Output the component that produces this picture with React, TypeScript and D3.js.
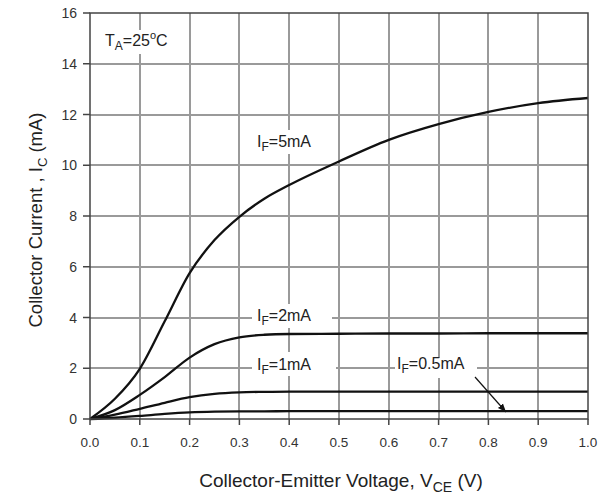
import React from "react";
import * as d3 from "d3";

const vce = [0, 0.05, 0.1, 0.15, 0.2, 0.25, 0.3, 0.35, 0.4, 0.5, 0.6, 0.7, 0.8, 0.9, 1.0];
const if5 = [0, 0.8, 1.98, 3.85, 5.75, 7.05, 7.97, 8.68, 9.22, 10.15, 11.0, 11.62, 12.1, 12.45, 12.65];
const if2 = [0, 0.35, 0.95, 1.65, 2.42, 2.95, 3.22, 3.32, 3.35, 3.36, 3.37, 3.37, 3.38, 3.38, 3.38];
const if1 = [0, 0.17, 0.4, 0.64, 0.86, 0.99, 1.05, 1.07, 1.08, 1.08, 1.08, 1.08, 1.08, 1.08, 1.08];
const if05 = [0, 0.05, 0.12, 0.2, 0.26, 0.29, 0.3, 0.3, 0.31, 0.31, 0.31, 0.31, 0.31, 0.31, 0.31];
const series = [if5, if2, if1, if05];
const xTicks = [0, 0.1, 0.2, 0.3, 0.4, 0.5, 0.6, 0.7, 0.8, 0.9, 1.0];
const yTicks = [0, 2, 4, 6, 8, 10, 12, 14, 16];

const W = 598, H = 495;
const L = 90, R = 588, T = 13, B = 419;

export default function App() {
  const x = d3.scaleLinear().domain([0, 1]).range([L, R]);
  const y = d3.scaleLinear().domain([0, 16]).range([B, T]);
  const line = d3.line<number>().x((_, i) => x(vce[i])).y((d) => y(d)).curve(d3.curveMonotoneX);
  const font = "Liberation Sans, Arial, sans-serif";
  const gridC = "#9a9a9a";
  const labelStyle = { fontFamily: font, fontSize: 16, fill: "#222" } as const;
  const IF = (lx: number, ly: number, val: string) => (
    <text x={lx} y={ly} {...labelStyle}>
      I<tspan fontSize={12} dy={4}>F</tspan><tspan dy={-4}>={val}</tspan>
    </text>
  );
  return (
    <svg width={W} height={H} style={{ position: "absolute", left: 0, top: 0, background: "#fff" }}>
      <defs>
        <marker id="ah" viewBox="0 0 10 10" refX="10" refY="5" markerWidth="7" markerHeight="7" orient="auto">
          <path d="M0,1 L10,5 L0,9 z" fill="#111" />
        </marker>
      </defs>
      <rect x={0} y={0} width={W} height={H} fill="#fff" />
      <g shapeRendering="crispEdges" fill={gridC}>
        {xTicks.slice(1, -1).map((t, i) => (
          <rect key={"gx" + i} x={Math.round(x(t)) - 1} y={T} width={1.5} height={B - T} />
        ))}
        {yTicks.slice(1, -1).map((t, i) => (
          <rect key={"gy" + i} x={L} y={Math.round(y(t)) - 1} width={R - L} height={1.5} />
        ))}
      </g>
      {/* label backgrounds */}
      <rect x={252} y={304} width={80} height={24} fill="#fff" />
      <rect x={252} y={352} width={84} height={24} fill="#fff" />
      <rect x={395} y={358} width={82} height={20} fill="#fff" />
      <rect x={252} y={130} width={76} height={24} fill="#fff" />
      <rect x={100} y={30} width={84} height={24} fill="#fff" />
      {series.map((s, i) => (
        <path key={i} d={line(s) || ""} fill="none" stroke="#111" strokeWidth={2.3} />
      ))}
      <rect x={L} y={T} width={R - L} height={B - T} fill="none" stroke="#444" strokeWidth={1.5} />
      {xTicks.map((t, i) => (
        <g key={"tx" + i}>
          <line x1={x(t)} x2={x(t)} y1={B} y2={B + 6} stroke="#444" strokeWidth={1.5} />
          <text x={x(t)} y={447} textAnchor="middle" fontFamily={font} fontSize={13.5} fill="#333">
            {t.toFixed(1)}
          </text>
        </g>
      ))}
      {yTicks.map((t, i) => (
        <g key={"ty" + i}>
          <line x1={L - 7} x2={L} y1={y(t)} y2={y(t)} stroke="#444" strokeWidth={1.5} />
          <text x={77} y={y(t) + 5} textAnchor="end" fontFamily={font} fontSize={14} fill="#333">
            {t}
          </text>
        </g>
      ))}
      <text x={105} y={46} {...labelStyle}>
        T<tspan fontSize={12} dy={4}>A</tspan><tspan dy={-4}>=25</tspan><tspan fontSize={11} dy={-7}>o</tspan><tspan dy={7}>C</tspan>
      </text>
      {IF(257, 147, "5mA")}
      {IF(257, 321, "2mA")}
      {IF(257, 370, "1mA")}
      {IF(397, 369, "0.5mA")}
      <line x1={475} x2={506} y1={377} y2={412} stroke="#111" strokeWidth={1.2} markerEnd="url(#ah)" />
      <text transform="translate(42,220) rotate(-90)" textAnchor="middle" fontFamily={font} fontSize={18.5} fill="#222">
        Collector Current , I<tspan fontSize={13} dy={5}>C</tspan><tspan dy={-5}> (mA)</tspan>
      </text>
      <text x={341} y={487} textAnchor="middle" fontFamily={font} fontSize={19} fill="#222">
        Collector-Emitter Voltage, V<tspan fontSize={14} dy={5}>CE</tspan><tspan dy={-5}> (V)</tspan>
      </text>
    </svg>
  );
}
